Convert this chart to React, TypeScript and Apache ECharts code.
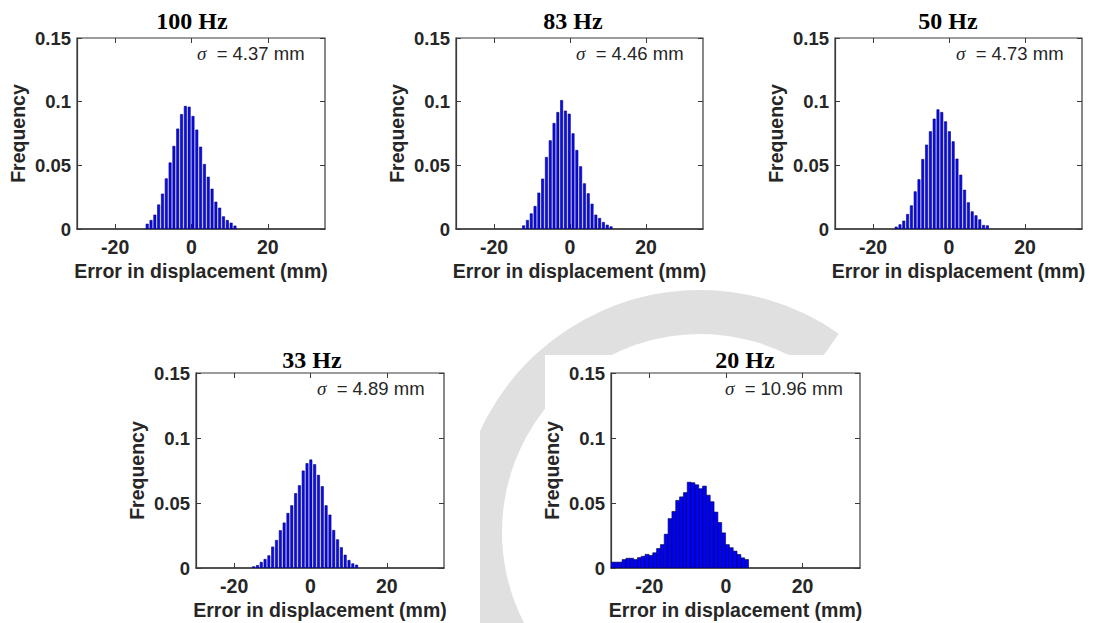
import React, { useEffect, useRef } from 'react';
import * as echarts from 'echarts';

// ---- data ----
const panelTitles = ['100 Hz', '83 Hz', '50 Hz', '33 Hz', '20 Hz'];
const sigmaValues = ['4.37', '4.46', '4.73', '4.89', '10.96'];
const xTickValues = [-20, 0, 20];
const yTickValues = [0, 0.05, 0.1, 0.15];
const xRange = [-30, 35];
const yRange = [0, 0.15];

// centre of the first histogram bin of each panel (mm) and bin width (mm)
const firstBinCenter = [-11.6, -12.2, -13.9, -14.9, -29.6];
const binWidth = 1;

const freq100 = [0.0039, 0.0068, 0.011, 0.019, 0.0275, 0.0395, 0.052, 0.065, 0.0786, 0.09, 0.0964, 0.0958, 0.0885, 0.0778, 0.0644, 0.0508, 0.0408, 0.0314, 0.0212, 0.0165, 0.0097, 0.0068, 0.0047, 0.0024];
const freq83 = [0.0026, 0.0068, 0.012, 0.0178, 0.0283, 0.0393, 0.0563, 0.0694, 0.083, 0.0916, 0.101, 0.0927, 0.0903, 0.0749, 0.0618, 0.049, 0.0356, 0.0278, 0.0196, 0.011, 0.0084, 0.0052, 0.0031, 0.0018];
const freq50 = [0.0016, 0.0034, 0.0063, 0.0115, 0.0183, 0.0293, 0.0388, 0.0547, 0.066, 0.0765, 0.0864, 0.0937, 0.0916, 0.0843, 0.0765, 0.0686, 0.055, 0.0424, 0.0306, 0.0207, 0.0136, 0.0105, 0.0073, 0.0029, 0.0026];
const freq33 = [0.001, 0.002, 0.0044, 0.0067, 0.0095, 0.0162, 0.0213, 0.0288, 0.0347, 0.0421, 0.048, 0.0573, 0.0634, 0.0747, 0.0804, 0.0832, 0.0796, 0.0714, 0.0627, 0.048, 0.0408, 0.029, 0.0218, 0.0157, 0.01, 0.0059, 0.0033, 0.0023];
const freq20 = [0.0045, 0.0045, 0.0045, 0.0065, 0.0075, 0.0075, 0.0065, 0.008, 0.009, 0.0105, 0.0097, 0.0117, 0.015, 0.018, 0.026, 0.038, 0.0435, 0.052, 0.0547, 0.058, 0.066, 0.0656, 0.064, 0.061, 0.063, 0.056, 0.051, 0.043, 0.035, 0.027, 0.018, 0.0156, 0.013, 0.0104, 0.0078, 0.0065];

const panelFreqs = [freq100, freq83, freq50, freq33, freq20];

// ---- layout / style (kept apart from data) ----
const grids = [
  { left: 77, top: 38, width: 248, height: 191 },
  { left: 456, top: 38, width: 247, height: 191 },
  { left: 835, top: 38, width: 247, height: 191 },
  { left: 196, top: 373, width: 248, height: 195 },
  { left: 611, top: 373, width: 249, height: 195 },
];
const titlePos = [
  [192, 21],
  [573, 21],
  [948, 21],
  [312, 360],
  [745, 360],
];
const sigmaOffset = [120, 120, 121, 121, 114];
const barFrac = [0.6, 0.6, 0.6, 0.6, 1.0];

// white sheets that the panels sit on (over the faint background watermark)
const sheets = [
  { x: 0, y: 0, width: 1094, height: 283 },
  { x: 180, y: 355, width: 300, height: 268 },
  { x: 545, y: 355, width: 350, height: 268 },
];

const SANS = '"Liberation Sans", Arial, Helvetica, sans-serif';
const SERIF = '"Liberation Serif", "Times New Roman", Times, serif';
const TXT = '#262626';
const FRAME = '#3a3a3a';
const WATERMARK = '#e0e0e0';

function buildOption() {
  const xAxis: any[] = [];
  const yAxis: any[] = [];
  const series: any[] = [];
  const graphic: any[] = [];

  // faint watermark arc in the background
  graphic.push({
    type: 'arc',
    z: -20,
    silent: true,
    shape: { cx: 700, cy: 532, r: 220, startAngle: (150 * Math.PI) / 180, endAngle: (305 * Math.PI) / 180, clockwise: true },
    style: { stroke: WATERMARK, lineWidth: 44, fill: 'none' },
  });
  sheets.forEach((s) => {
    graphic.push({
      type: 'rect',
      z: -10,
      silent: true,
      shape: { x: s.x, y: s.y, width: s.width, height: s.height },
      style: { fill: '#ffffff' },
    });
  });

  grids.forEach((g, i) => {
    xAxis.push({
      type: 'value',
      gridIndex: i,
      position: 'bottom',
      min: xRange[0],
      max: xRange[1],
      name: 'Error in displacement (mm)',
      nameLocation: 'middle',
      nameGap: 32,
      nameTextStyle: { fontFamily: SANS, fontWeight: 'bold', fontSize: 19.5, color: TXT },
      axisLine: { show: true, onZero: false, lineStyle: { color: FRAME, width: 1.5 } },
      axisTick: { show: true, inside: true, length: 5, customValues: xTickValues, lineStyle: { color: FRAME } },
      axisLabel: { show: true, customValues: xTickValues, margin: 8, fontFamily: SANS, fontWeight: 'bold', fontSize: 19.5, color: TXT },
      splitLine: { show: false },
    });
    yAxis.push({
      type: 'value',
      gridIndex: i,
      position: 'left',
      min: yRange[0],
      max: yRange[1],
      interval: 0.05,
      name: 'Frequency',
      nameLocation: 'middle',
      nameGap: 49,
      nameTextStyle: { fontFamily: SANS, fontWeight: 'bold', fontSize: 19.5, color: TXT },
      axisLine: { show: true, onZero: false, lineStyle: { color: FRAME, width: 1.2 } },
      axisTick: { show: true, inside: true, length: 5, lineStyle: { color: FRAME } },
      axisLabel: { show: true, margin: 6, fontFamily: SANS, fontWeight: 'bold', fontSize: 18.5, color: TXT },
      splitLine: { show: false },
    });
  });
  // mirrored ticks on top / right
  grids.forEach((g, i) => {
    xAxis.push({
      type: 'value',
      gridIndex: i,
      position: 'top',
      min: xRange[0],
      max: xRange[1],
      axisLine: { show: false, onZero: false },
      axisTick: { show: true, inside: true, length: 5, customValues: xTickValues, lineStyle: { color: FRAME } },
      axisLabel: { show: false },
      splitLine: { show: false },
    });
    yAxis.push({
      type: 'value',
      gridIndex: i,
      position: 'right',
      min: yRange[0],
      max: yRange[1],
      interval: 0.05,
      axisLine: { show: false, onZero: false },
      axisTick: { show: true, inside: true, length: 5, lineStyle: { color: FRAME } },
      axisLabel: { show: false },
      splitLine: { show: false },
    });
  });

  panelFreqs.forEach((freqs, i) => {
    const w = binWidth * barFrac[i];
    const wide = barFrac[i] >= 1;
    series.push({
      type: 'custom',
      xAxisIndex: i,
      yAxisIndex: i,
      clip: true,
      encode: { x: 0, y: 1 },
      data: freqs.map((v, k) => [firstBinCenter[i] + k * binWidth, v]),
      renderItem: (params: any, api: any) => {
        const x = api.value(0);
        const y = api.value(1);
        const p0 = api.coord([x - w / 2, y]);
        const p1 = api.coord([x + w / 2, 0]);
        return {
          type: 'rect',
          shape: { x: p0[0], y: p0[1], width: p1[0] - p0[0], height: p1[1] - p0[1] },
          style: wide
            ? { fill: '#0000ff', stroke: '#00003a', lineWidth: 0.6 }
            : { fill: '#0a0aee', stroke: '#00007a', lineWidth: 0.6 },
        };
      },
    });

    graphic.push({
      type: 'text',
      x: titlePos[i][0],
      y: titlePos[i][1],
      style: {
        text: panelTitles[i],
        fontFamily: SERIF,
        fontWeight: 'bold',
        fontSize: 24,
        fill: '#000',
        align: 'center',
        verticalAlign: 'middle',
      },
    });
    graphic.push({
      type: 'text',
      x: grids[i].left + sigmaOffset[i],
      y: grids[i].top + 15,
      style: {
        text: '{s|σ}  = ' + sigmaValues[i] + ' mm',
        fontFamily: SANS,
        fontSize: 18.5,
        fill: TXT,
        align: 'left',
        verticalAlign: 'middle',
        rich: {
          s: { fontFamily: SERIF, fontStyle: 'italic', fontSize: 19, fill: TXT },
        },
      },
    });
  });

  return {
    animation: false,
    backgroundColor: '#ffffff',
    grid: grids.map((g) => ({
      left: g.left,
      top: g.top,
      width: g.width,
      height: g.height,
      show: true,
      borderColor: FRAME,
      borderWidth: 1.2,
      backgroundColor: '#ffffff',
      containLabel: false,
    })),
    xAxis,
    yAxis,
    series,
    graphic,
  };
}

export default function App() {
  const ref = useRef<HTMLDivElement>(null);
  useEffect(() => {
    if (!ref.current) return;
    const chart = echarts.init(ref.current, undefined, { renderer: 'svg' });
    chart.setOption(buildOption() as any);
    return () => chart.dispose();
  }, []);
  return (
    <div
      ref={ref}
      style={{ position: 'fixed', left: 0, top: 0, width: 1094, height: 623, background: '#fff' }}
    />
  );
}
